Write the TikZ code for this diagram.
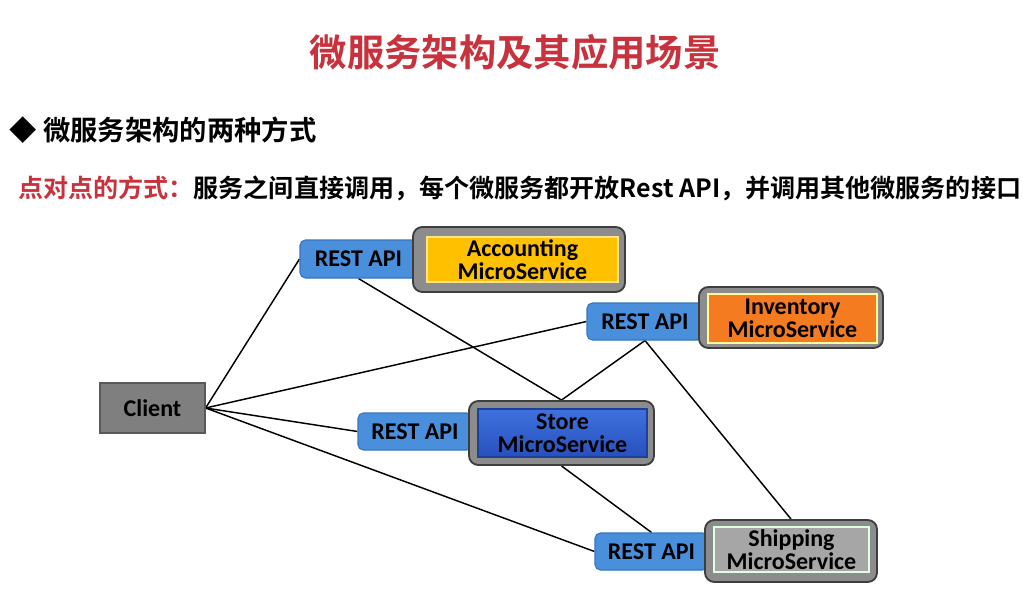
\documentclass[tikz,border=0pt]{standalone}
\usepackage{fontspec}
\newfontfamily\cjkb{Noto Sans CJK SC Bold}
\newfontfamily\diag{Carlito}
\usetikzlibrary{backgrounds}
\definecolor{titlered}{HTML}{C8323C}
\definecolor{restblue}{HTML}{4A8FDC}
\definecolor{restedge}{HTML}{3A74BE}
\definecolor{outerfill}{HTML}{8C8C8C}
\definecolor{outeredge}{HTML}{3E3E3E}
\definecolor{accfill}{HTML}{FFC000}
\definecolor{invfill}{HTML}{F47B20}
\definecolor{storetop}{HTML}{3F72DC}
\definecolor{storebot}{HTML}{2650BE}
\definecolor{shipfill}{HTML}{A6A6A6}
\definecolor{clientfill}{HTML}{7F7F7F}
\tikzset{
  lbl/.style={font=\diag\bfseries\fontsize{18}{17.25}\selectfont, text=black, align=center, inner sep=0pt},
  restbox/.style={lbl, draw=restedge, fill=restblue, line width=0.8pt, rounded corners=4pt},
  outerbox/.style={draw=outeredge, fill=outerfill, line width=1.4pt, rounded corners=7pt, inner sep=0pt},
  innerbox/.style={lbl, line width=0.9pt},
  conn/.style={draw=black, line width=1.1pt}
}
\begin{document}
\begin{tikzpicture}[x=0.75pt,y=-0.75pt]
\useasboundingbox (0,0) rectangle (1023,595);

% headings
\node[font=\cjkb\fontsize{28}{30}\selectfont, text=titlered, inner sep=0pt] (title) at (515,52) {微服务架构及其应用场景};
\node[font=\cjkb\fontsize{20.5}{22}\selectfont, text=black, anchor=west, inner sep=0pt] (sub) at (9,130) {◆\hspace{5pt}微服务架构的两种方式};
\node[font=\cjkb\fontsize{18.8}{20}\selectfont, text=black, anchor=west, inner sep=0pt] (desc) at (18,188)
  {\textcolor{titlered}{点对点的方式：}服务之间直接调用，每个微服务都开放Rest API，并调用其他微服务的接口};

% client
\node[lbl, draw=black!65, fill=clientfill, line width=0.9pt, minimum width=78.75pt, minimum height=37.5pt] (client) at (152.5,408) {Client};

% Accounting
\node[restbox, minimum width=87.75pt, minimum height=28.5pt] (accR) at (358.5,259) {REST API};
\node[outerbox, minimum width=159pt, minimum height=48.75pt] (accO) at (519,259.5) {};
\node[innerbox, draw=accfill!45, fill=accfill, minimum width=143.25pt, minimum height=33.75pt] (accI) at (522.5,259.5) {Accounting\\MicroService};

% Inventory
\node[restbox, minimum width=87pt, minimum height=27.75pt] (invR) at (645,321.5) {REST API};
\node[outerbox, minimum width=138pt, minimum height=45.75pt] (invO) at (791,317.5) {};
\node[innerbox, draw=yellow!40!white, fill=invfill, minimum width=126.75pt, minimum height=36.75pt] (invI) at (792.5,318.5) {Inventory\\MicroService};

% Store
\node[restbox, minimum width=85.5pt, minimum height=27.75pt] (stoR) at (415,431.5) {REST API};
\node[outerbox, minimum width=138.75pt, minimum height=48pt] (stoO) at (561.5,433) {};
\node[innerbox, draw=storebot!80!black, top color=storetop, bottom color=storebot, minimum width=126.75pt, minimum height=36pt] (stoI) at (562.5,433) {Store\\MicroService};

% Shipping
\node[restbox, minimum width=84.75pt, minimum height=27.75pt] (shiR) at (651.5,551.5) {REST API};
\node[outerbox, minimum width=129pt, minimum height=46.5pt] (shiO) at (791,551) {};
\node[innerbox, draw=green!12!white, fill=shipfill, minimum width=116.25pt, minimum height=33.75pt] (shiI) at (791.5,549.5) {Shipping\\MicroService};

% connectors
\begin{scope}[on background layer]
\fill[white] (0,0) rectangle (1023,595);
\draw[conn] (client.east) -- (accR.west);
\draw[conn] (client.east) -- (invR.west);
\draw[conn] (client.east) -- (stoR.west);
\draw[conn] (client.east) -- (shiR.west);
\draw[conn] (accR.south) -- (stoO.north);
\draw[conn] (invR.south) -- (stoO.north);
\draw[conn] (invR.south) -- (shiO.north);
\draw[conn] (stoO.south) -- (shiR.north);
\end{scope}
\end{tikzpicture}
\end{document}
